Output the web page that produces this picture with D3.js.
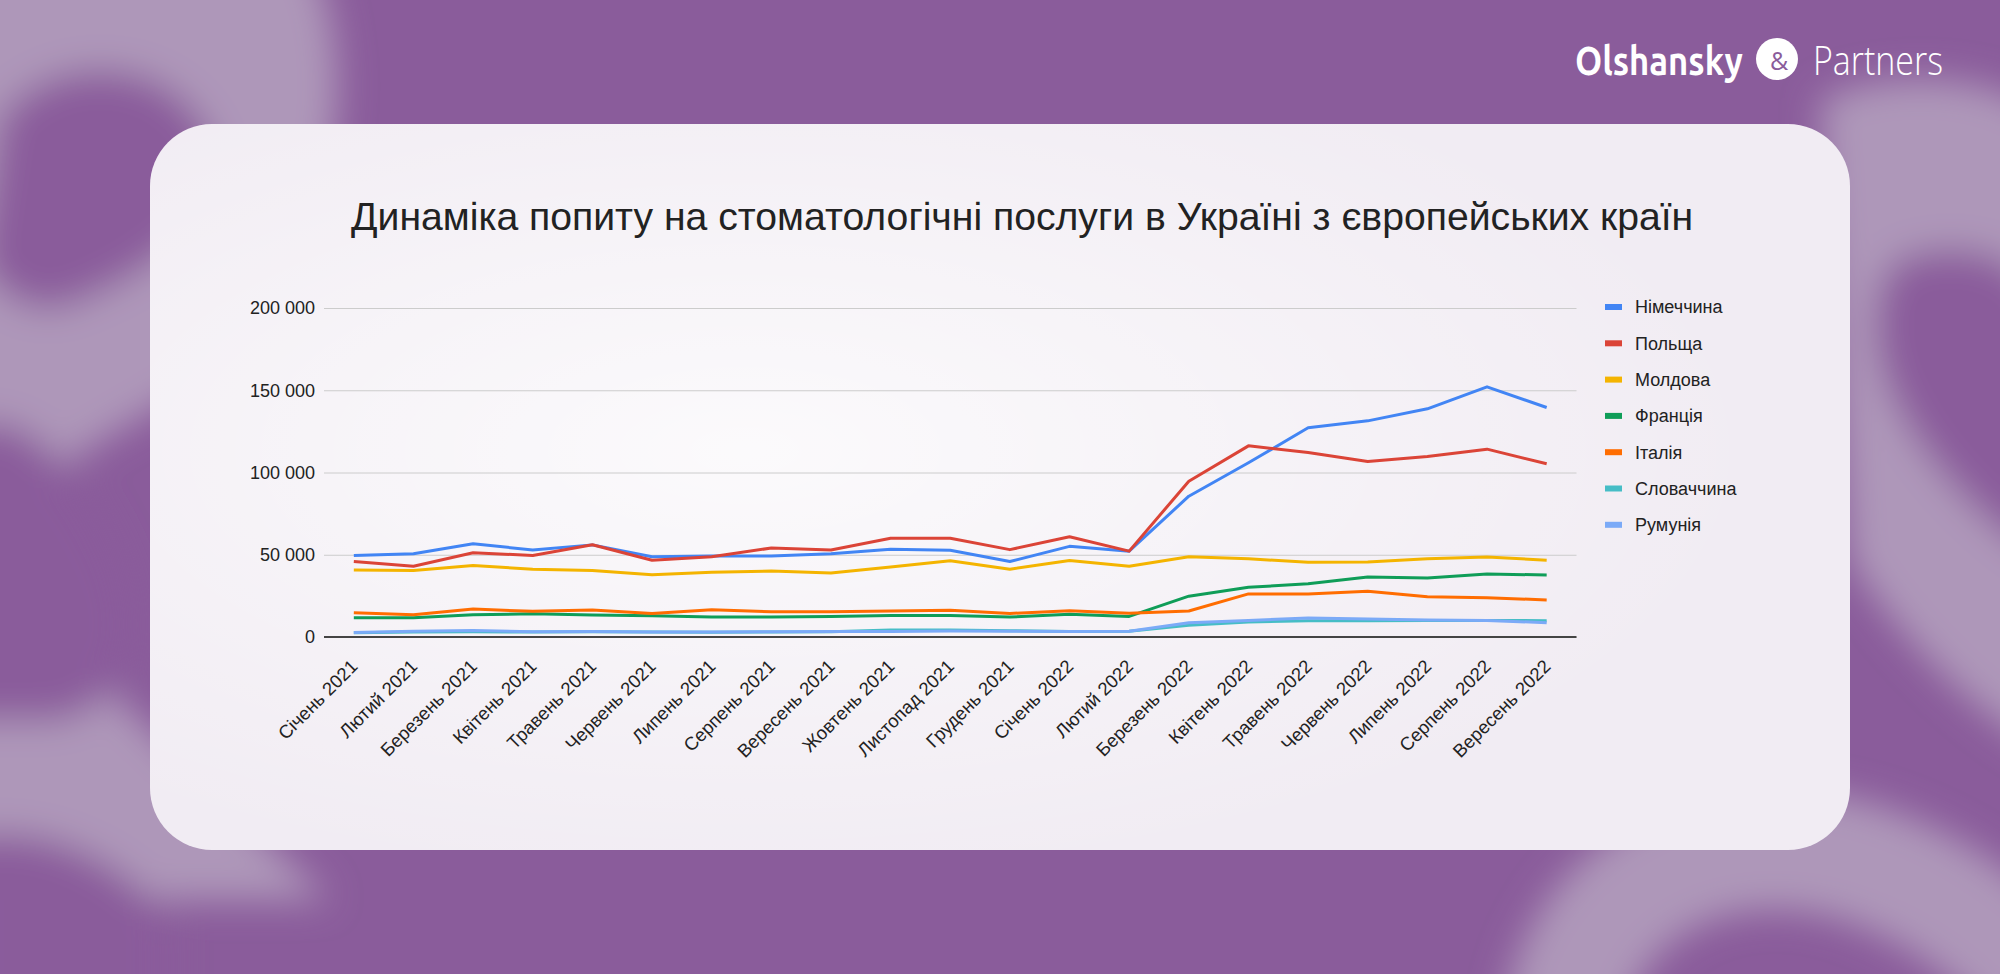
<!DOCTYPE html>
<html>
<head>
<meta charset="utf-8">
<script src="https://cdn.jsdelivr.net/npm/d3@7"></script>
<style>
  html, body { margin: 0; padding: 0; background: #8a5c9b; overflow: hidden; }
  svg { display: block; }
  .tick text { font-family: Arial, "Liberation Sans", sans-serif; fill: #222; }
</style>
</head>
<body>
<script>
// data
var months = ["Січень 2021", "Лютий 2021", "Березень 2021", "Квітень 2021", "Травень 2021",
    "Червень 2021", "Липень 2021", "Серпень 2021", "Вересень 2021", "Жовтень 2021",
    "Листопад 2021", "Грудень 2021", "Січень 2022", "Лютий 2022", "Березень 2022",
    "Квітень 2022", "Травень 2022", "Червень 2022", "Липень 2022", "Серпень 2022", "Вересень 2022"];

var germany  = [49600, 50600, 56700, 52900, 56000, 48800, 49200, 49200, 50600, 53300, 52700, 45900, 55100, 52200, 85600, 105900, 127200, 131400, 138700, 152100, 139500];
var poland   = [45900, 43000, 51200, 49600, 56100, 46700, 48800, 54100, 52900, 60000, 60000, 53100, 60900, 52200, 94700, 116200, 112100, 106700, 109700, 114200, 105300];
var moldova  = [40800, 40400, 43400, 41200, 40400, 37900, 39300, 40100, 38900, 42600, 46300, 41200, 46500, 43000, 48800, 47500, 45400, 45600, 47500, 48700, 46700];
var france   = [11700, 11700, 13500, 14100, 13300, 12900, 12100, 12200, 12500, 13100, 13100, 12100, 13900, 12500, 24800, 30200, 32400, 36500, 35900, 38300, 37700];
var italy    = [14700, 13500, 17000, 15600, 16400, 14300, 16600, 15300, 15400, 15800, 16200, 14300, 16000, 14500, 15800, 26200, 26200, 27800, 24500, 23900, 22500];
var slovakia = [2600, 3000, 3200, 3000, 3200, 3000, 2900, 3000, 3200, 4300, 4300, 3800, 3300, 3500, 7100, 9100, 9900, 9900, 10100, 10100, 9900];
var romania  = [2800, 3500, 3900, 3200, 3300, 3100, 3000, 3200, 3300, 3400, 3600, 3500, 3400, 3500, 8700, 10100, 11600, 11000, 10400, 10100, 8700];

var seriesNames  = ["Німеччина", "Польща", "Молдова", "Франція", "Італія", "Словаччина", "Румунія"];
var seriesValues = [germany, poland, moldova, france, italy, slovakia, romania];
var seriesColors = ["#4285f4", "#db4437", "#f4b400", "#0f9d58", "#ff6d01", "#46bdc6", "#7baaf7"];

var yTicks = [0, 50000, 100000, 150000, 200000];
var title = "Динаміка попиту на стоматологічні послуги в Україні з європейських країн";

var W = 2000, H = 974;
var font = "Arial, 'Liberation Sans', sans-serif";

var svg = d3.select("body").append("svg")
    .attr("width", W)
    .attr("height", H);

var defs = svg.append("defs");
defs.append("filter").attr("id", "blur")
    .attr("x", "-50%").attr("y", "-50%").attr("width", "200%").attr("height", "200%")
  .append("feGaussianBlur").attr("stdDeviation", 18);

var glow = defs.append("radialGradient").attr("id", "glow")
    .attr("cx", "35%").attr("cy", "45%").attr("r", "60%");
glow.append("stop").attr("offset", "0%").attr("stop-color", "#ffffff").attr("stop-opacity", 0.75);
glow.append("stop").attr("offset", "100%").attr("stop-color", "#ffffff").attr("stop-opacity", 0);

// background
svg.append("rect").attr("width", W).attr("height", H).attr("fill", "#8a5c9b");

var deco = svg.append("g").attr("filter", "url(#blur)");
var light = "#ae97b9", dark = "#8a5c9b";
// left "&" pieces
deco.append("path").attr("fill", light)
    .attr("d", "M-80,-60 L300,-60 C360,40 350,200 250,330 C200,400 120,420 60,470 C20,520 40,600 120,700 L330,900 L-80,900 Z");
deco.append("path").attr("fill", dark)
    .attr("d", "M0,120 C40,60 150,50 200,120 C250,190 180,260 80,300 C40,320 0,300 -20,260 Z");
deco.append("path").attr("fill", dark)
    .attr("d", "M-40,430 C20,400 80,470 120,560 C150,640 130,700 60,720 L-40,720 Z");
deco.append("path").attr("fill", dark)
    .attr("d", "M-40,840 C40,820 120,860 170,920 L170,1020 L-40,1020 Z");
// right "&" pieces
deco.append("path").attr("fill", light)
    .attr("d", "M1820,100 C1900,60 2040,80 2060,140 L2060,760 C1980,720 1900,640 1850,560 Z");
deco.append("path").attr("fill", dark)
    .attr("d", "M1900,260 C1950,240 2020,250 2040,300 L2040,560 C1980,520 1900,440 1880,360 C1870,310 1880,275 1900,260 Z");
deco.append("path").attr("fill", "none").attr("stroke", light).attr("stroke-width", 120)
    .attr("d", "M1560,1060 C1560,900 1700,820 1850,860 C1950,890 2000,940 2060,1000");

// card
svg.append("rect")
    .attr("x", 150).attr("y", 124).attr("width", 1700).attr("height", 726)
    .attr("rx", 62).attr("ry", 62)
    .attr("fill", "#f1ecf3");
svg.append("rect")
    .attr("x", 150).attr("y", 124).attr("width", 1700).attr("height", 726)
    .attr("rx", 62).attr("ry", 62)
    .attr("fill", "url(#glow)");

// logo
var logo = svg.append("g");
logo.append("text")
    .attr("x", 1575).attr("y", 75)
    .attr("font-family", "Ubuntu, 'Open Sans', sans-serif")
    .attr("font-weight", 700).attr("font-size", 40)
    .attr("fill", "#fff")
    .attr("textLength", 168).attr("lengthAdjust", "spacingAndGlyphs")
    .text("Olshansky");
logo.append("circle").attr("cx", 1777).attr("cy", 59).attr("r", 21).attr("fill", "#fff");
logo.append("text")
    .attr("x", 1779).attr("y", 70)
    .attr("text-anchor", "middle")
    .attr("font-family", "'Open Sans', sans-serif")
    .attr("font-size", 25).attr("fill", "#8a5c9b")
    .text("&");
logo.append("text")
    .attr("x", 1813).attr("y", 75)
    .attr("font-family", "'Open Sans', sans-serif")
    .attr("font-weight", 300).attr("font-size", 40)
    .attr("fill", "#fff")
    .attr("textLength", 130).attr("lengthAdjust", "spacingAndGlyphs")
    .text("Partners");

// title
var t = svg.append("text")
    .attr("x", 351).attr("y", 230)
    .attr("font-family", font)
    .attr("font-size", 40)
    .attr("fill", "#222")
    .text(title);
var tl = t.node().getComputedTextLength();
t.attr("font-size", 40 * 1343 / tl);

// scales
var x = d3.scalePoint()
    .domain(months)
    .range([324, 1576.5])
    .padding(0.5);

var y = d3.scaleLinear()
    .domain([0, 200000])
    .range([637, 308]);

var loc = d3.formatLocale({decimal: ",", thousands: " ", grouping: [3], currency: ["", ""]});
var fmt = loc.format(",");

// y grid + labels
var yAxis = svg.append("g")
    .attr("transform", "translate(324,0)")
    .call(d3.axisLeft(y).tickValues(yTicks).tickFormat(fmt).tickSize(-(1576.5 - 324)).tickPadding(9));
yAxis.select(".domain").remove();
yAxis.selectAll(".tick line").attr("stroke", "#cccccc").attr("stroke-width", 1);
yAxis.selectAll(".tick text").attr("font-size", 18).attr("fill", "#222");

// x axis
var xAxis = svg.append("g")
    .attr("transform", "translate(0,637)")
    .call(d3.axisBottom(x).tickSize(0).tickSizeOuter(0));
xAxis.select(".domain").attr("stroke", "#444").attr("stroke-width", 2)
    .attr("d", "M324,0H1576.5");
xAxis.selectAll(".tick text")
    .attr("font-size", 18.5)
    .attr("fill", "#222")
    .attr("text-anchor", "end")
    .attr("y", 0).attr("dy", "0.35em")
    .attr("transform", "translate(0,26) rotate(-45)");

// lines
var line = d3.line()
    .x(function(d, i) { return x(months[i]); })
    .y(function(d) { return y(d); });

svg.append("g").selectAll("path")
    .data(seriesValues)
    .enter().append("path")
        .attr("fill", "none")
        .attr("stroke", function(d, i) { return seriesColors[i]; })
        .attr("stroke-width", 3)
        .attr("stroke-linejoin", "round")
        .attr("d", line);

// legend
var legend = svg.append("g").selectAll("g")
    .data(seriesNames)
    .enter().append("g")
        .attr("transform", function(d, i) { return "translate(1605," + (307 + i * 36.3) + ")"; });

legend.append("rect")
    .attr("x", 0).attr("y", -3).attr("width", 17).attr("height", 6)
    .attr("fill", function(d, i) { return seriesColors[i]; });

legend.append("text")
    .attr("x", 30).attr("dy", "0.35em")
    .attr("font-family", font)
    .attr("font-size", 18)
    .attr("fill", "#222")
    .text(function(d) { return d; });
</script>
</body>
</html>
